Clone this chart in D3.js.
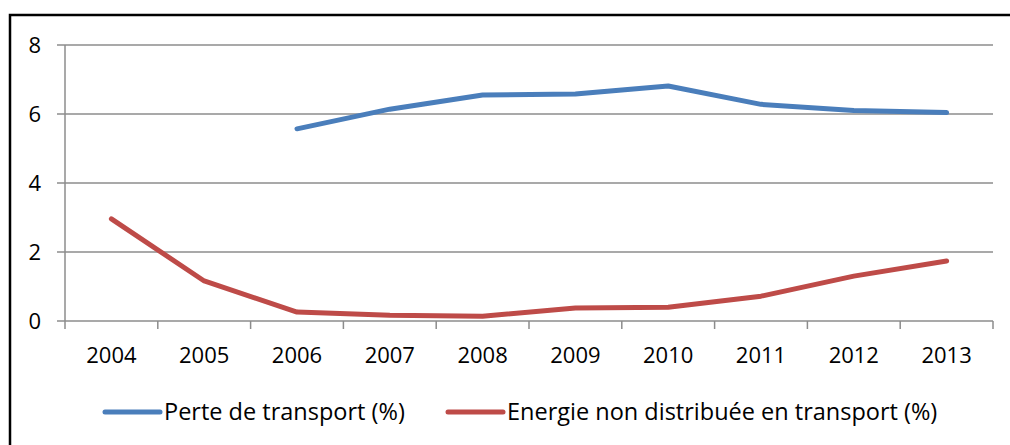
<!DOCTYPE html>
<html>
<head>
<meta charset="utf-8">
<script src="https://cdn.jsdelivr.net/npm/d3@7"></script>
<style>
  body { margin: 0; background: #fff; }
  text { font-family: "Open Sans", Lato, sans-serif; fill: #000; }
</style>
</head>
<body>
<div id="chart"></div>
<script>
// data
var years = ["2004","2005","2006","2007","2008","2009","2010","2011","2012","2013"]
var perte = [null, null, 5.57, 6.14, 6.55, 6.58, 6.81, 6.28, 6.10, 6.04]
var energie = [2.96, 1.16, 0.26, 0.17, 0.14, 0.38, 0.40, 0.72, 1.30, 1.74]
var yTicks = [0, 2, 4, 6, 8]
var seriesNames = ["Perte de transport (%)", "Energie non distribuée en transport (%)"]
var seriesColors = ["#4A7EBB", "#BE4B48"]

var width = 1010
var height = 445
var plotLeft = 65, plotRight = 993, plotTop = 45, plotBottom = 321
var axisFont = "22px"
var legendFont = "23.5px"

var svg = d3.select("#chart")
            .append("svg")
            .attr("width", width)
            .attr("height", height)

// outer frame (runs off the right and bottom of the picture)
svg.append("rect")
  .attr("x", 10).attr("y", 15)
  .attr("width", 1010).attr("height", 445)
  .attr("fill", "none")
  .attr("stroke", "#000")
  .attr("stroke-width", 2.5)

var xscale = d3.scaleBand().domain(years).range([plotLeft, plotRight])
var yscale = d3.scaleLinear().domain([0, 8]).range([plotBottom, plotTop])

// horizontal gridlines with their small left ticks
svg.selectAll(".grid")
  .data(yTicks)
  .enter()
  .append("line")
  .attr("x1", plotLeft - 8).attr("x2", plotRight)
  .attr("y1", d => yscale(d)).attr("y2", d => yscale(d))
  .attr("stroke", "#8c8c8c")
  .attr("stroke-width", 1.5)

// y axis line
svg.append("line")
  .attr("x1", plotLeft).attr("x2", plotLeft)
  .attr("y1", plotTop).attr("y2", plotBottom)
  .attr("stroke", "#8c8c8c")
  .attr("stroke-width", 1.5)

svg.selectAll(".ylab")
  .data(yTicks)
  .enter()
  .append("text")
  .attr("x", 41)
  .attr("y", d => yscale(d))
  .attr("dy", "0.35em")
  .attr("text-anchor", "end")
  .style("font-size", axisFont)
  .text(d => d)

// category tick marks between the years
var edges = years.map(d => xscale(d)).concat([plotRight])
svg.selectAll(".xtick")
  .data(edges)
  .enter()
  .append("line")
  .attr("x1", d => d).attr("x2", d => d)
  .attr("y1", plotBottom).attr("y2", plotBottom + 8)
  .attr("stroke", "#8c8c8c")
  .attr("stroke-width", 1.5)

svg.selectAll(".xlab")
  .data(years)
  .enter()
  .append("text")
  .attr("x", d => xscale(d) + xscale.bandwidth() / 2)
  .attr("y", 355)
  .attr("dy", "0.35em")
  .attr("text-anchor", "middle")
  .style("font-size", axisFont)
  .text(d => d)

// the two series
var line = d3.line()
  .defined(d => d.v != null)
  .x(d => xscale(d.year) + xscale.bandwidth() / 2)
  .y(d => yscale(d.v))

;[perte, energie].forEach(function(values, i){
  var pts = years.map((y, j) => ({year: y, v: values[j]}))
  svg.append("path")
    .datum(pts)
    .attr("d", line)
    .attr("fill", "none")
    .attr("stroke", seriesColors[i])
    .attr("stroke-width", 5)
    .attr("stroke-linejoin", "round")
    .attr("stroke-linecap", "round")
})

// legend
var legendX = [105, 448]
seriesNames.forEach(function(name, i){
  svg.append("line")
    .attr("x1", legendX[i]).attr("x2", legendX[i] + 55)
    .attr("y1", 412).attr("y2", 412)
    .attr("stroke", seriesColors[i])
    .attr("stroke-width", 5)
    .attr("stroke-linecap", "round")
  svg.append("text")
    .attr("x", legendX[i] + 59)
    .attr("y", 412)
    .attr("dy", "0.35em")
    .style("font-size", legendFont)
    .text(name)
})
</script>
</body>
</html>
